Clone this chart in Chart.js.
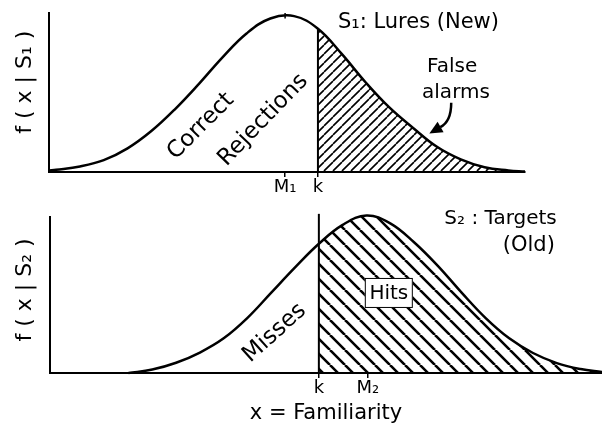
<!DOCTYPE html>
<html>
<head>
<meta charset="utf-8">
<script src="https://cdn.jsdelivr.net/npm/chart.js@4.4.1/dist/chart.umd.min.js"></script>
<style>
  html, body { margin: 0; padding: 0; background: #fff; }
  #wrap { position: relative; width: 602px; height: 432px; }
  .panel { position: absolute; left: 0; width: 602px; }
  #topPanel { top: 0; height: 200px; }
  #bottomPanel { top: 200px; height: 232px; }
</style>
</head>
<body>
<div id="wrap">
  <div class="panel" id="topPanel"><canvas id="lures"></canvas></div>
  <div class="panel" id="bottomPanel"><canvas id="targets"></canvas></div>
</div>
<script>
// === 1. DATA (x = familiarity in arbitrary units, criterion k = 6) ===
const luresX = [0.35, 0.5, 1, 1.5, 2, 2.5, 3, 3.5, 4, 4.5, 5, 5.5, 6, 6.5, 7, 7.5, 8, 8.5, 9, 9.5, 10, 10.35];
const luresY = [0.01, 0.014, 0.035, 0.075, 0.15, 0.26, 0.40, 0.56, 0.73, 0.88, 0.975, 0.99, 0.91, 0.75, 0.57, 0.41, 0.28, 0.16, 0.08, 0.03, 0.01, 0.003];

const targetsX = [2, 2.5, 3, 3.5, 4, 4.5, 5, 5.5, 6, 6.5, 7, 7.5, 8, 8.5, 9, 9.5, 10, 10.5, 11, 11.5, 11.95];
const targetsY = [0, 0.022, 0.065, 0.13, 0.22, 0.35, 0.51, 0.67, 0.82, 0.94, 1.0, 0.95, 0.83, 0.68, 0.51, 0.35, 0.22, 0.127, 0.063, 0.025, 0.006];

const K = 6;      // criterion
const M1 = 5.31;  // mean of lures
const M2 = 7.03;  // mean of targets

const topTickValues = [M1, K];
const topTickLabels = ['M₁', 'k'];
const bottomTickValues = [K, M2];
const bottomTickLabels = ['k', 'M₂'];

const FONT = '"DejaVu Sans", sans-serif';

// === 2. HELPERS ===
function points(xs, ys) {
    return xs.map((x, i) => ({ x: x, y: ys[i] }));
}

// diagonal hatch tile
function hatch(dir, step, width) {
    const tile = document.createElement('canvas');
    tile.width = step;
    tile.height = step;
    const g = tile.getContext('2d');
    g.strokeStyle = '#000';
    g.lineWidth = width;
    g.beginPath();
    for (let k = -1; k <= 1; k++) {
        if (dir === '/') {
            g.moveTo(k * step, step);
            g.lineTo(k * step + step, 0);
        } else {
            g.moveTo(k * step, 0);
            g.lineTo(k * step + step, step);
        }
    }
    g.stroke();
    return g.createPattern(tile, 'repeat');
}

// fill colour: hatching only to the right of x = fromX
function hatchFrom(dir, step, width, fromX) {
    return (context) => {
        const chart = context.chart;
        if (!chart.chartArea || !chart.scales.x) return 'rgba(0,0,0,0)';
        const full = document.createElement('canvas');
        full.width = chart.width;
        full.height = chart.height;
        const g = full.getContext('2d');
        const x0 = chart.scales.x.getPixelForValue(fromX);
        g.fillStyle = hatch(dir, step, width);
        g.fillRect(x0, 0, chart.width - x0, chart.height);
        return g.createPattern(full, 'no-repeat');
    };
}

function label(ctx, str, px, py, size, align, angle) {
    ctx.save();
    ctx.translate(px, py);
    if (angle) ctx.rotate(angle * Math.PI / 180);
    ctx.font = size + 'px ' + FONT;
    ctx.fillStyle = '#000';
    ctx.textAlign = align || 'center';
    ctx.textBaseline = 'middle';
    ctx.fillText(str, 0, 0);
    ctx.restore();
}

function notes(id, draw) {
    return {
        id: id,
        afterDatasetsDraw(chart) {
            draw(chart.ctx, chart.scales.x, chart.scales.y);
        }
    };
}

function axisOptions(xMin, xMax, yMax, yWidth, xHeight, tickValues, tickLabels) {
    return {
        x: {
            type: 'linear',
            min: xMin,
            max: xMax,
            afterFit: s => { s.height = xHeight; },
            afterBuildTicks: s => { s.ticks = tickValues.map(v => ({ value: v })); },
            ticks: {
                callback: (v, i) => tickLabels[i],
                color: '#000',
                font: { family: FONT, size: 18 },
                padding: 0,
                maxRotation: 0,
                autoSkip: false
            },
            grid: { drawOnChartArea: false, drawTicks: true, tickLength: 5, color: '#000', lineWidth: 1.5 },
            border: { color: '#000', width: 2 }
        },
        y: {
            min: 0,
            max: yMax,
            afterFit: s => { s.width = yWidth; },
            ticks: { display: false },
            grid: { display: false },
            border: { color: '#000', width: 2 }
        }
    };
}

// === 3. TOP PANEL: S1 lures ===
new Chart(document.getElementById('lures'), {
    type: 'line',
    data: {
        datasets: [
            {
                data: points(luresX, luresY),
                fill: 'origin',
                backgroundColor: hatchFrom('/', 9, 1.6, K),
                borderColor: '#000',
                borderWidth: 2.5,
                pointRadius: 0,
                tension: 0.4,
                order: 3
            },
            {
                data: [{ x: K, y: 0 }, { x: K, y: luresY[luresX.indexOf(K)] }],
                borderColor: '#000',
                borderWidth: 2,
                pointRadius: 0,
                order: 2
            },
            {
                // small mark on the crest above M1
                data: [{ x: M1, y: 0.975 }, { x: M1, y: 1.01 }],
                borderColor: '#000',
                borderWidth: 1.5,
                pointRadius: 0,
                clip: false,
                order: 1
            }
        ]
    },
    options: {
        responsive: true,
        maintainAspectRatio: false,
        animation: false,
        layout: { padding: { top: 13, right: 77, left: 0, bottom: 0 } },
        plugins: { legend: { display: false }, tooltip: { enabled: false } },
        scales: axisOptions(0.35, 10.35, 1.01, 49, 28, topTickValues, topTickLabels)
    },
    plugins: [notes('luresNotes', (ctx, x, y) => {
        label(ctx, 'f ( x | S₁ )', 25, y.getPixelForValue(0.57), 22, 'center', -90);
        label(ctx, 'Correct', x.getPixelForValue(3.54), y.getPixelForValue(0.29), 23, 'center', -45);
        label(ctx, 'Rejections', x.getPixelForValue(4.85), y.getPixelForValue(0.33), 23, 'center', -46);
        label(ctx, 'S₁: Lures (New)', x.getPixelForValue(6.42), y.getPixelForValue(0.95), 21, 'left');
        label(ctx, 'False', x.getPixelForValue(8.82), y.getPixelForValue(0.67), 20, 'center');
        label(ctx, 'alarms', x.getPixelForValue(8.9), y.getPixelForValue(0.5), 20, 'center');

        // curved arrow pointing into the false-alarm area
        const sx = x.getPixelForValue(8.8), sy = y.getPixelForValue(0.44);
        const cx = x.getPixelForValue(8.8), cy = y.getPixelForValue(0.32);
        const ex = x.getPixelForValue(8.57), ey = y.getPixelForValue(0.285);
        const tx = x.getPixelForValue(8.34), ty = y.getPixelForValue(0.245);
        ctx.save();
        ctx.strokeStyle = '#000';
        ctx.fillStyle = '#000';
        ctx.lineWidth = 2.5;
        ctx.beginPath();
        ctx.moveTo(sx, sy);
        ctx.quadraticCurveTo(cx, cy, ex, ey);
        ctx.stroke();
        const ang = Math.atan2(ty - ey, tx - ex);
        ctx.beginPath();
        ctx.moveTo(tx, ty);
        ctx.lineTo(tx - 13 * Math.cos(ang) + 6 * Math.sin(ang), ty - 13 * Math.sin(ang) - 6 * Math.cos(ang));
        ctx.lineTo(tx - 13 * Math.cos(ang) - 6 * Math.sin(ang), ty - 13 * Math.sin(ang) + 6 * Math.cos(ang));
        ctx.closePath();
        ctx.fill();
        ctx.restore();
    })]
});

// === 4. BOTTOM PANEL: S2 targets ===
new Chart(document.getElementById('targets'), {
    type: 'line',
    data: {
        datasets: [
            {
                data: points(targetsX, targetsY),
                fill: 'origin',
                backgroundColor: hatchFrom('\\', 15, 2.6, K),
                borderColor: '#000',
                borderWidth: 2.5,
                pointRadius: 0,
                tension: 0.4,
                clip: false,
                order: 2
            },
            {
                data: [{ x: K, y: 0 }, { x: K, y: 1.01 }],
                borderColor: '#000',
                borderWidth: 2,
                pointRadius: 0,
                clip: false,
                order: 1
            }
        ]
    },
    options: {
        responsive: true,
        maintainAspectRatio: false,
        animation: false,
        elements: { line: { capBezierPoints: false } },
        layout: { padding: { top: 17, right: 0, left: 0, bottom: 0 } },
        plugins: { legend: { display: false }, tooltip: { enabled: false } },
        scales: (() => {
            const s = axisOptions(0.35, 11.95, 0.99, 50, 59, bottomTickValues, bottomTickLabels);
            s.x.title = {
                display: true,
                text: 'x = Familiarity',
                color: '#000',
                font: { family: FONT, size: 21 },
                padding: { top: 0, bottom: 6 }
            };
            return s;
        })()
    },
    plugins: [notes('targetsNotes', (ctx, x, y) => {
        label(ctx, 'f ( x | S₂ )', 25, y.getPixelForValue(0.527), 22, 'center', -90);
        label(ctx, 'Misses', x.getPixelForValue(5.07), y.getPixelForValue(0.254), 23, 'center', -42);
        label(ctx, 'S₂ : Targets', x.getPixelForValue(11.0), y.getPixelForValue(0.98), 20, 'right');
        label(ctx, '(Old)', x.getPixelForValue(10.96), y.getPixelForValue(0.81), 21, 'right');

        // boxed "Hits" label over the hatching
        const hx = x.getPixelForValue(7.47), hy = y.getPixelForValue(0.508);
        ctx.save();
        ctx.fillStyle = '#fff';
        ctx.strokeStyle = '#000';
        ctx.lineWidth = 1;
        ctx.fillRect(hx - 24, hy - 15, 48, 30);
        ctx.strokeRect(hx - 24 + 0.5, hy - 15 + 0.5, 47, 29);
        ctx.restore();
        label(ctx, 'Hits', hx, hy + 1, 20, 'center');
    })]
});
</script>
</body>
</html>
